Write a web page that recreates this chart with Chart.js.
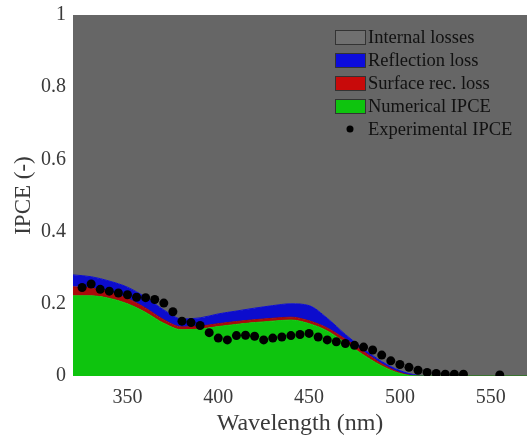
<!DOCTYPE html>
<html>
<head>
<meta charset="utf-8">
<script src="https://cdn.jsdelivr.net/npm/chart.js@4.4.1/dist/chart.umd.min.js"></script>
<style>
html, body { margin: 0; padding: 0; background: #fff; }
canvas { display: block; }
</style>
</head>
<body>
<canvas id="myChart" width="527" height="438"></canvas>
<script>
// wavelength grid of the simulated curves (nm)
const wavelength = [320, 330, 340, 350, 360, 370, 380, 390, 400, 410, 420, 430, 440, 450, 460, 470, 480, 490, 500, 510, 520, 570];
// thickness of each stacked band
const numericalIPCE  = [.222, .222, .215, .200, .176, .146, .128, .130, .137, .143, .148, .152, .155, .145, .125, .092, .058, .028, .007, 0, 0, 0];
const surfaceRecLoss = [.025, .022, .018, .015, .012, .010, .008, .008, .008, .008, .008, .008, .008, .008, .008, .010, .010, .006, .003, 0, 0, 0];
const reflectionLoss = [.033, .031, .030, .031, .030, .027, .022, .023, .027, .029, .032, .035, .037, .042, .027, .013, .007, .006, .005, .002, 0, 0];

// measured points
const expWavelength = [325, 330, 335, 340, 345, 350, 355, 360, 365, 370, 375, 380, 385, 390, 395, 400, 405, 410, 415, 420, 425, 430, 435, 440, 445, 450, 455, 460, 465, 470, 475, 480, 485, 490, 495, 500, 505, 510, 515, 520, 525, 530, 535, 555];
const expIPCE = [.245, .255, .24, .235, .23, .225, .218, .217, .212, .202, .178, .152, .148, .14, .12, .105, .1, .112, .113, .11, .1, .105, .108, .112, .115, .118, .108, .1, .095, .09, .085, .08, .072, .058, .042, .032, .024, .016, .01, .007, .005, .005, .005, .003];

const xTicks = [350, 400, 450, 500, 550];
const yTicks = [0, 0.2, 0.4, 0.6, 0.8, 1];

// cumulative tops of the stacked areas
let greenTop = numericalIPCE.slice();
let redTop = greenTop.map((v, i) => v + surfaceRecLoss[i]);
let blueTop = redTop.map((v, i) => v + reflectionLoss[i]);
let grayTop = wavelength.map(() => 1);

function pts(xs, ys) {
    return xs.map((x, i) => ({x: x, y: ys[i]}));
}

const serif = '"Liberation Serif", "Times New Roman", serif';
const textColor = '#3a3a3a';

const insideLegend = {
    id: 'insideLegend',
    afterDraw(chart) {
        const ctx = chart.ctx;
        const area = chart.chartArea;
        const order = [4, 3, 2, 1, 0];
        ctx.save();
        ctx.font = '18.5px ' + serif;
        ctx.textBaseline = 'middle';
        order.forEach((idx, i) => {
            const ds = chart.data.datasets[idx];
            const x = area.right - 192;
            const y = area.top + 22 + i * 23;
            if (idx === 0) {
                ctx.fillStyle = '#000';
                ctx.beginPath();
                ctx.arc(x + 15, y, 3.5, 0, Math.PI * 2);
                ctx.fill();
            } else {
                ctx.fillStyle = ds.legendFill;
                ctx.fillRect(x, y - 7, 30, 14);
                ctx.strokeStyle = '#333';
                ctx.lineWidth = 1;
                ctx.strokeRect(x + 0.5, y - 6.5, 30, 14);
            }
            ctx.fillStyle = '#111';
            ctx.fillText(ds.label, x + 33, y + 1);
        });
        ctx.restore();
    }
};

const myChart = new Chart(document.getElementById("myChart").getContext("2d"), {
    type: 'line',
    data: {
        datasets: [{
            label: 'Experimental IPCE',
            data: pts(expWavelength, expIPCE),
            showLine: false,
            pointRadius: 4.5,
            pointBackgroundColor: '#000',
            pointBorderWidth: 0
        }, {
            label: 'Numerical IPCE',
            data: pts(wavelength, greenTop),
            backgroundColor: 'rgb(14, 196, 14)',
            borderColor: 'rgb(14, 196, 14)',
            legendFill: 'rgb(14, 196, 14)',
            fill: 'origin'
        }, {
            label: 'Surface rec. loss',
            data: pts(wavelength, redTop),
            backgroundColor: 'rgb(170, 10, 10)',
            borderColor: 'rgb(150, 10, 10)',
            legendFill: 'rgb(200, 10, 10)',
            fill: 1
        }, {
            label: 'Reflection loss',
            data: pts(wavelength, blueTop),
            backgroundColor: 'rgb(12, 12, 205)',
            borderColor: 'rgb(12, 12, 205)',
            legendFill: 'rgb(12, 12, 220)',
            fill: 2
        }, {
            label: 'Internal losses',
            data: pts(wavelength, grayTop),
            backgroundColor: 'rgb(102, 102, 102)',
            borderColor: 'rgb(102, 102, 102)',
            legendFill: 'rgb(112, 112, 112)',
            fill: 3
        }]
    },
    options: {
        responsive: false,
        animation: false,
        layout: { autoPadding: false, padding: { top: 15, right: 0, left: 0, bottom: 0 } },
        elements: {
            line: { borderWidth: 1, cubicInterpolationMode: 'monotone' },
            point: { radius: 0 }
        },
        plugins: {
            legend: { display: false },
            tooltip: { enabled: false }
        },
        scales: {
            x: {
                type: 'linear',
                min: 320,
                max: 570,
                afterBuildTicks: (s) => { s.ticks = xTicks.map(v => ({value: v})); },
                afterFit: (s) => { s.height = 62; s.paddingLeft = 0; s.paddingRight = 0; },
                grid: { display: false, drawTicks: false },
                border: { display: false },
                ticks: { color: textColor, font: { family: serif, size: 20 }, padding: 10, maxRotation: 0 },
                title: { display: true, text: 'Wavelength (nm)', color: textColor, font: { family: serif, size: 24 }, padding: { top: 0, bottom: 0 } }
            },
            y: {
                min: 0,
                max: 1,
                afterBuildTicks: (s) => { s.ticks = yTicks.map(v => ({value: v})); },
                afterFit: (s) => { s.width = 73; s.paddingTop = 0; s.paddingBottom = 0; },
                grid: { display: false, drawTicks: false },
                border: { display: false },
                ticks: {
                    color: textColor, font: { family: serif, size: 20 }, padding: 7,
                    callback: (v) => String(+v.toFixed(1))
                },
                title: { display: true, text: 'IPCE (-)', color: textColor, font: { family: serif, size: 23 }, padding: { top: 10, bottom: 0 } }
            }
        }
    },
    plugins: [insideLegend]
});
</script>
</body>
</html>
